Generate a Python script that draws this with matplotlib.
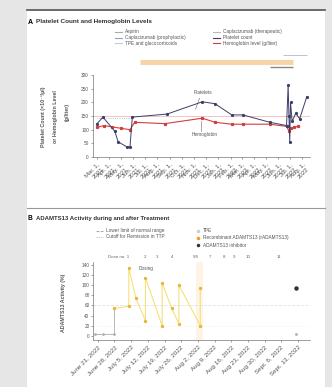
import matplotlib.pyplot as plt
import pandas as pd
from matplotlib.patches import Rectangle
from matplotlib.lines import Line2D

plt.rcParams['font.family'] = ['Liberation Sans', 'DejaVu Sans']

W, H = 332, 387

# ---- panel A data ----
plt_dates = ['2021-03-01', '2021-03-17', '2021-04-16', '2021-04-24', '2021-05-16', '2021-05-24',
             '2021-05-30', '2021-08-25', '2021-11-22', '2021-12-24', '2022-02-04', '2022-03-04',
             '2022-05-11', '2022-06-22', '2022-06-26', '2022-06-28', '2022-06-30', '2022-07-02',
             '2022-07-06', '2022-07-15', '2022-07-25', '2022-08-12']
plt_values = [120, 146, 94, 56, 37, 37, 146, 157, 202, 195, 154, 154,
              127, 115, 262, 150, 56, 200, 130, 160, 140, 221]

hb_dates = ['2021-03-01', '2021-03-20', '2021-04-10', '2021-05-01', '2021-05-24', '2021-06-05',
            '2021-08-20', '2021-11-22', '2021-12-24', '2022-02-04', '2022-03-04', '2022-05-11',
            '2022-06-22', '2022-06-28', '2022-07-02', '2022-07-10', '2022-07-20']
hb_values = [108, 115, 110, 105, 100, 127, 122, 142, 127, 120, 120, 120, 112, 95, 105, 108, 112]

# treatment periods shown above panel A
bar_starts = ['2021-06-18', '2022-05-11', '2022-06-13']
bar_ends = ['2022-07-08', '2022-07-08', '2022-08-12']

a_ticks = pd.date_range('2021-03-01', '2022-08-01', freq='MS')
a_ticklabels = [d.strftime('%b. %-d,\n%Y') for d in a_ticks]

legend_a_left = ['Aspirin', 'Caplacizumab (prophylactic)', 'TPE and glucocorticoids']
legend_a_right = ['Caplacizumab (therapeutic)', 'Platelet count', 'Hemoglobin level (g/liter)']

# ---- panel B data ----
pre_dates = ['2022-06-20', '2022-06-23', '2022-06-28', '2022-06-28']
pre_values = [3, 3, 3, 54]
act_dates = ['2022-06-28', '2022-07-04', '2022-07-04', '2022-07-07', '2022-07-11',
             '2022-07-11', '2022-07-18', '2022-07-18', '2022-07-22', '2022-07-25', '2022-07-25',
             '2022-08-03', '2022-08-03']
act_values = [54, 58, 134, 74, 30, 114, 20, 104, 54, 24, 100, 20, 94]
late_date = '2022-09-12'
late_value = 94
late_low = 3

b_ticks = pd.date_range('2022-06-21', periods=13, freq='7D')
b_ticklabels = [d.strftime('%b %-d, %Y').replace('Jun ', 'June ').replace('Jul ', 'July ')
                .replace('Sep ', 'Sept. ') for d in b_ticks]
dose_dates = ['2022-07-04', '2022-07-11', '2022-07-16', '2022-07-22', '2022-08-01',
              '2022-08-07', '2022-08-13', '2022-08-17', '2022-08-23', '2022-09-05']
dose_labels = ['Dose no. 1', '2', '3', '4', '5/6', '7', '8', '9', '10', '11']

legend_b_left = ['Lower limit of normal range', 'Cutoff for Remission in TTP']
legend_b_right = ['TPE', 'Recombinant ADAMTS13 (rADAMTS13)', 'ADAMTS13 inhibitor']


def box(l, t, r, b):
    return [l / W, 1 - b / H, (r - l) / W, (b - t) / H]


def D(s):
    return pd.Timestamp(s)


fig = plt.figure(figsize=(W / 100, H / 100), dpi=100)
fig.patch.set_facecolor('#e6e6e6')
fig.patches.append(Rectangle((27 / W, 0), 298 / W, 1 - 11 / H, transform=fig.transFigure,
                             facecolor='white', edgecolor='none', zorder=-5))
fig.add_artist(Line2D([27 / W, 325 / W], [1 - 10 / H] * 2, color='#555555', lw=1.2))
fig.add_artist(Line2D([27 / W, 325 / W], [1 - 208 / H] * 2, color='#999999', lw=0.8))

# ---------------- Panel A ----------------
fig.text(28 / W, 1 - 22 / H, 'A', fontsize=5, fontweight='bold', va='center')
fig.text(36 / W, 1 - 22 / H, 'Platelet Count and Hemoglobin Levels', fontsize=4.6,
         fontweight='bold', va='center', color='#333333')

left_cols = ['#aaaaaa', '#9aa0b8', '#b8cde0']
right_cols = ['#bbbbbb', '#3d3d6b', '#d33d3d']
for i, (lab, c) in enumerate(zip(legend_a_left, left_cols)):
    y = 1 - (32 + 5.5 * i) / H
    fig.add_artist(Line2D([115 / W, 122 / W], [y, y], color=c, lw=0.8))
    fig.text(125 / W, y, lab, fontsize=3.4, va='center', color='#555555')
for i, (lab, c) in enumerate(zip(legend_a_right, right_cols)):
    y = 1 - (32 + 5.5 * i) / H
    fig.add_artist(Line2D([213 / W, 220 / W], [y, y], color=c, lw=0.8))
    fig.text(223 / W, y, lab, fontsize=3.4, va='center', color='#555555')

axA = fig.add_axes(box(93, 75, 310, 157))
axT = fig.add_axes(box(93, 52, 310, 74), sharex=axA)
axA.patch.set_alpha(0)

axA.set_xlim(D('2021-02-20'), D('2022-08-20'))
axA.set_ylim(0, 300)
axA.axhline(150, color='#f4b8b8', lw=0.6, zorder=1)
axA.plot([D('2021-03-01'), D('2021-05-30')], [142, 142], color='#7ac8b8', lw=0.6, ls=':')
axA.plot(pd.to_datetime(hb_dates), hb_values, color='#d33d3d', lw=0.8, marker='s',
         ms=1.3, zorder=3)
axA.plot(pd.to_datetime(plt_dates), plt_values, color='#3d3d6b', lw=0.7, marker='o',
         ms=1.3, zorder=4)
axA.text(D('2021-11-01'), 235, 'Platelets', fontsize=3.4, color='#555555', ha='left', va='center')
axA.plot([D('2021-11-15'), D('2021-11-05')], [215, 175], color='#666666', lw=0.4)
axA.text(D('2021-10-25'), 82, 'Hemoglobin', fontsize=3.4, color='#555555', ha='left', va='center')
axA.plot([D('2021-11-20'), D('2021-11-20')], [95, 130], color='#666666', lw=0.4)

axA.set_yticks(range(0, 301, 50))
axA.set_xticks(a_ticks)
axA.set_xticklabels(a_ticklabels, rotation=45, ha='right', rotation_mode='anchor',
                    linespacing=1.3)
for s in ['top', 'right']:
    axA.spines[s].set_visible(False)
for s in ['left', 'bottom']:
    axA.spines[s].set_color('#777777')
    axA.spines[s].set_linewidth(0.5)
axA.tick_params(axis='y', labelsize=3.4, length=1.5, width=0.4, colors='#555555', pad=1.5)
axA.tick_params(axis='x', labelsize=4.3, length=1.5, width=0.4, colors='#555555', pad=2)

fig.text(43 / W, 1 - 117 / H, 'Platelet Count (×10⁻³/µl)', rotation=90, fontsize=3.8,
         fontweight='bold', color='#555555', ha='center', va='center')
fig.text(55 / W, 1 - 117 / H, 'or Hemoglobin Level', rotation=90, fontsize=3.8,
         fontweight='bold', color='#555555', ha='center', va='center')
fig.text(67 / W, 1 - 112 / H, '(g/liter)', rotation=90, fontsize=3.8,
         fontweight='bold', color='#555555', ha='center', va='center')

axT.set_ylim(0, 3)
axT.axis('off')
axT.hlines([1.7], [D(bar_starts[0])], [D(bar_ends[0])], color='#f6d2a4', lw=3.5)
axT.hlines([0.9], [D(bar_starts[1])], [D(bar_ends[1])], color='#888888', lw=1.0)
axT.hlines([2.6], [D(bar_starts[2])], [D(bar_ends[2])], color='#aaaaaa', lw=0.5)

# ---------------- Panel B ----------------
fig.text(28 / W, 1 - 218 / H, 'B', fontsize=4.8, fontweight='bold', va='center')
fig.text(36 / W, 1 - 218 / H, 'ADAMTS13 Activity during and after Treatment', fontsize=4.3,
         fontweight='bold', va='center', color='#333333')
for i, lab in enumerate(legend_b_left):
    y = 1 - (231 + 6 * i) / H
    fig.add_artist(Line2D([96 / W, 103 / W], [y, y], color='#999999', lw=0.6,
                          ls='--' if i == 0 else ':'))
    fig.text(106 / W, y, lab, fontsize=3.4, va='center', color='#555555')
mk_cols = ['#cccccc', '#e8a020', '#333333']
for i, lab in enumerate(legend_b_right):
    y = 1 - (231 + 7 * i) / H
    fig.add_artist(Line2D([198 / W], [y], color=mk_cols[i], marker='o', ms=1.5, lw=0))
    fig.text(203 / W, y, lab, fontsize=3.4, va='center', color='#555555')

axB = fig.add_axes(box(93, 262, 310, 340))
axB.patch.set_alpha(0)
axB.set_xlim(D('2022-06-19'), D('2022-09-18'))
axB.set_ylim(-8, 145)
axB.axvspan(D('2022-08-01'), D('2022-08-04'), color='#fdf4e6', lw=0, zorder=0)
axB.axhline(60, color='#e2e2e2', lw=0.6, ls='--', zorder=1)
axB.axhline(20, color='#eeeeee', lw=0.6, ls=':', zorder=1)
axB.plot(pd.to_datetime(pre_dates), pre_values, color='#b0b0b0', lw=0.6, marker='o', ms=1.0)
axB.plot(pd.to_datetime(act_dates), act_values, color='#f4e27a', lw=0.8, marker='o', ms=1.4,
         mfc='#e9b53a', mec='#e9b53a', zorder=3)
axB.plot([D(late_date)], [late_value], marker='o', ms=2.2, color='#333333', lw=0)
axB.plot([D(late_date)], [late_low], marker='o', ms=1.2, color='#bbbbbb', lw=0)
axB.text(D('2022-07-08'), 132, 'Dosing', fontsize=3.4, color='#555555', va='center')
for d, lab in zip(dose_dates, dose_labels):
    axB.text(D(d), 1.06, lab, transform=axB.get_xaxis_transform(), fontsize=3.2,
             color='#666666', ha='right' if lab.startswith('Dose') else 'center', va='center')

axB.set_yticks(range(0, 141, 20))
axB.set_xticks(b_ticks)
axB.set_xticklabels(b_ticklabels, rotation=45, ha='right', rotation_mode='anchor')
for s in ['top', 'right']:
    axB.spines[s].set_visible(False)
for s in ['left', 'bottom']:
    axB.spines[s].set_color('#777777')
    axB.spines[s].set_linewidth(0.5)
axB.tick_params(axis='y', labelsize=3.4, length=1.5, width=0.4, colors='#555555', pad=1)
axB.tick_params(axis='x', labelsize=4.5, length=1.5, width=0.4, colors='#555555', pad=2)
fig.text(63 / W, 1 - 303 / H, 'ADAMTS13 Activity (%)', rotation=90, fontsize=3.8,
         fontweight='bold', color='#555555', ha='center', va='center')

fig.savefig('out.png', dpi=100, facecolor=fig.get_facecolor())
